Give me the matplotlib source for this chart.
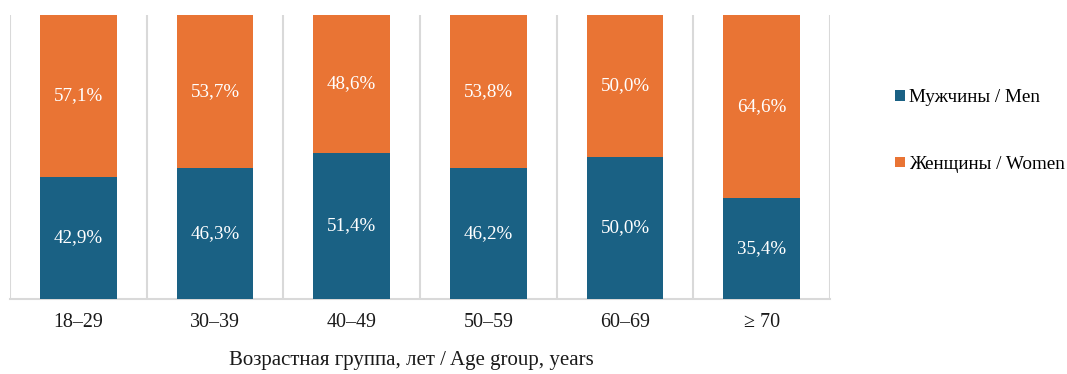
import matplotlib
matplotlib.use("Agg")
import matplotlib.pyplot as plt
from matplotlib.patches import Patch
import numpy as np

plt.rcParams['font.family'] = ['Liberation Serif', 'DejaVu Serif']

categories = ["18–29", "30–39", "40–49", "50–59", "60–69", "≥ 70"]
men = [42.9, 46.3, 51.4, 46.2, 50.0, 35.4]
women = [57.1, 53.7, 48.6, 53.8, 50.0, 64.6]
series_names = ["Мужчины / Men", "Женщины / Women"]
xlabel = "Возрастная группа, лет / Age group, years"

c_men = "#1a6184"
c_women = "#e97434"
grid_c = "#d9d9d9"
text_c = "#1a1a1a"

W, H = 1067, 374
fig = plt.figure(figsize=(W / 100, H / 100), dpi=100)
ax = fig.add_axes([10 / W, (H - 299) / H, (830 - 10) / W, (299 - 15) / H])

x = np.arange(len(categories))
bw = 0.56
ax.bar(x, men, bw, color=c_men, zorder=3)
ax.bar(x, women, bw, bottom=men, color=c_women, zorder=3)

for xi, m, w in zip(x, men, women):
    ax.text(xi, m / 2, f"{m:.1f}%".replace(".", ","), ha="center", va="center",
            color="white", fontsize=13.7, zorder=4)
    ax.text(xi, m + w / 2, f"{w:.1f}%".replace(".", ","), ha="center", va="center",
            color="white", fontsize=13.7, zorder=4)

ax.set_xlim(-0.5, len(categories) - 0.5)
ax.set_ylim(0, 100)
for b in np.arange(-0.5, len(categories), 1.0):
    ax.axvline(b, color=grid_c, lw=1.5, zorder=1)

for s in ["top", "right", "left"]:
    ax.spines[s].set_visible(False)
ax.spines["bottom"].set_color(grid_c)
ax.spines["bottom"].set_linewidth(1.5)
ax.set_yticks([])
ax.set_xticks(x)
ax.set_xticklabels(categories, fontsize=14.4, color=text_c)
ax.tick_params(axis="x", length=0, pad=10)
ax.set_xlabel(xlabel, fontsize=15, color=text_c)
ax.xaxis.set_label_coords(0.49, -0.218)
ax.xaxis.label.set_va("center")

handles = [Patch(facecolor=c_men), Patch(facecolor=c_women)]
fig.legend(handles, series_names, loc="upper left", bbox_to_anchor=(895 / W, 1 - 89 / H),
           frameon=False, fontsize=13.8, handlelength=0.5, handleheight=0.5,
           handletextpad=0.25, labelspacing=2.6, borderaxespad=0, borderpad=0)

fig.savefig("out.png", dpi=100)
